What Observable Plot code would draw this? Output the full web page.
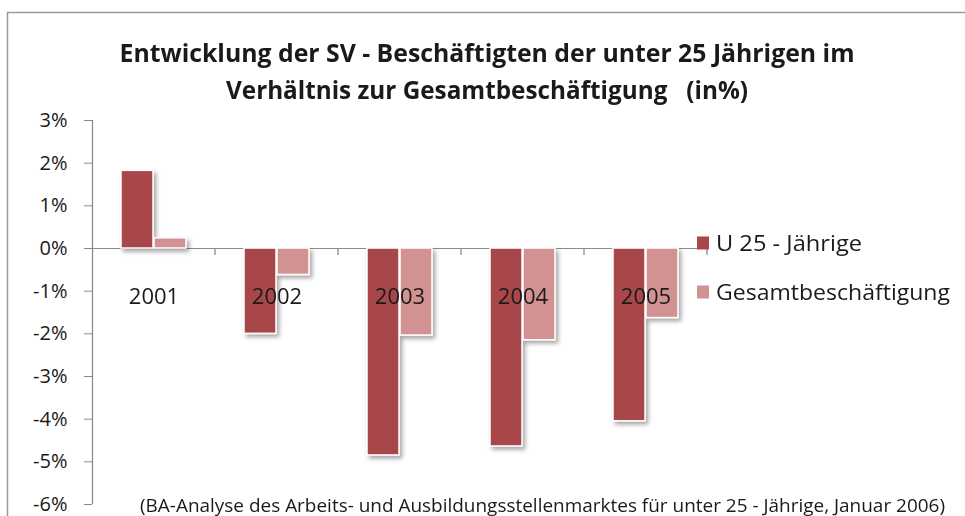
<!DOCTYPE html>
<html>
<head>
<meta charset="utf-8">
<script src="https://cdn.jsdelivr.net/npm/d3@7"></script>
<script src="https://cdn.jsdelivr.net/npm/@observablehq/plot@0.6"></script>
<style>
  html, body { margin: 0; padding: 0; background: #fff; }
  #chart { width: 965px; height: 516px; overflow: hidden; }
</style>
</head>
<body>
<div id="chart"></div>
<script>
const years = ["2001", "2002", "2003", "2004", "2005"];
const u25 = [1.82, -2.0, -4.85, -4.64, -4.05];
const gesamt = [0.24, -0.62, -2.04, -2.15, -1.63];
const seriesNames = ["U 25 - Jährige", "Gesamtbeschäftigung"];
const colors = ["#A8464A", "#D39292"];
const yTicks = [3, 2, 1, 0, -1, -2, -3, -4, -5, -6];
const titleLines = [
  "Entwicklung der SV - Beschäftigten der unter 25 Jährigen im",
  "Verhältnis zur Gesamtbeschäftigung   (in%)"
];
const caption = "(BA-Analyse des Arbeits- und Ausbildungsstellenmarktes für unter 25 - Jährige, Januar 2006)";

const data = years.flatMap((yr, i) => [
  {year: yr, series: seriesNames[0], value: u25[i]},
  {year: yr, series: seriesNames[1], value: gesamt[i]}
]);

const fmt = d => `${d}%`;
const FONT = "'Open Sans', 'DejaVu Sans', sans-serif";

const chart = Plot.plot({
  width: 965,
  height: 516,
  marginTop: 120,
  marginBottom: 12,
  marginLeft: 92,
  marginRight: 258,
  style: {fontFamily: FONT, color: "#1a1a1a", background: "#fff"},
  fx: {domain: years, padding: 0, axis: null},
  x: {domain: seriesNames, paddingInner: 0.03, paddingOuter: 0.825, axis: null},
  y: {domain: [-6, 3], axis: null},
  color: {domain: seriesNames, range: colors},
  marks: [
    Plot.axisY({ticks: yTicks, tickFormat: fmt, tickSize: 8, tickPadding: 17,
      fontSize: 20, stroke: "#868686", fill: "#1a1a1a", label: null}),
    Plot.ruleY([0], {stroke: "#8c8c8c", strokeWidth: 1.2}),
    Plot.barY(data, {fx: "year", x: "series", y: "value", fill: "series",
      stroke: "white", strokeWidth: 1.5}),
    Plot.text(years, {fx: d => d, text: d => d, frameAnchor: "top", dy: 168,
      fontSize: 22, fill: "#1a1a1a"})
  ]
});

document.getElementById("chart").appendChild(chart);

const svg = d3.select(chart);
const fx = chart.scale("fx");
const y = chart.scale("y");

// drop shadow for bars
const defs = svg.insert("defs", ":first-child");
const f = defs.append("filter").attr("id", "barShadow")
  .attr("x", "-20%").attr("y", "-20%").attr("width", "150%").attr("height", "150%");
f.append("feDropShadow").attr("dx", 2.5).attr("dy", 3).attr("stdDeviation", 2)
  .attr("flood-color", "#000").attr("flood-opacity", 0.35);
svg.selectAll("g[aria-label='bar']").attr("filter", "url(#barShadow)");

const x0 = fx.range[0];
const y0 = y.apply(0);

// y axis line
svg.append("line").attr("x1", x0 + 0.5).attr("x2", x0 + 0.5)
  .attr("y1", y.apply(3)).attr("y2", y.apply(-6))
  .attr("stroke", "#868686").attr("stroke-width", 1.2);

// category boundary ticks on the zero line
years.forEach(yr => {
  const xe = fx.apply(yr) + fx.bandwidth;
  svg.append("line").attr("x1", xe).attr("x2", xe)
    .attr("y1", y0).attr("y2", y0 + 7)
    .attr("stroke", "#868686").attr("stroke-width", 1.2);
});

// outer frame (partial, as in the reference)
svg.append("path").attr("d", "M7.5,516 L7.5,12.5 L965,12.5")
  .attr("fill", "none").attr("stroke", "#9a9a9a").attr("stroke-width", 1.5);

// title
const titleY = [62, 99];
const titleW = [735, 522];
titleLines.forEach((t, i) => {
  svg.append("text").text(t)
    .attr("x", 487).attr("y", titleY[i])
    .attr("text-anchor", "middle")
    .attr("font-family", FONT).attr("font-weight", "bold")
    .attr("font-size", 25).attr("fill", "#1a1a1a")
    .attr("textLength", titleW[i]).attr("lengthAdjust", "spacingAndGlyphs");
});

// legend
const legY = [243, 292];
const legW = [146, 234];
seriesNames.forEach((s, i) => {
  svg.append("rect").attr("x", 697).attr("y", legY[i] - 6.5)
    .attr("width", 12).attr("height", 13).attr("fill", colors[i]);
  svg.append("text").text(s)
    .attr("x", 716).attr("y", legY[i]).attr("dy", "0.36em")
    .attr("text-anchor", "start")
    .attr("font-family", FONT).attr("font-size", 21).attr("fill", "#1a1a1a")
    .attr("textLength", legW[i]).attr("lengthAdjust", "spacingAndGlyphs");
});

// caption
svg.append("text").text(caption)
  .attr("x", 140).attr("y", 512)
  .attr("text-anchor", "start")
  .attr("font-family", FONT).attr("font-size", 18).attr("fill", "#1a1a1a")
  .attr("textLength", 805).attr("lengthAdjust", "spacingAndGlyphs");
</script>
</body>
</html>
